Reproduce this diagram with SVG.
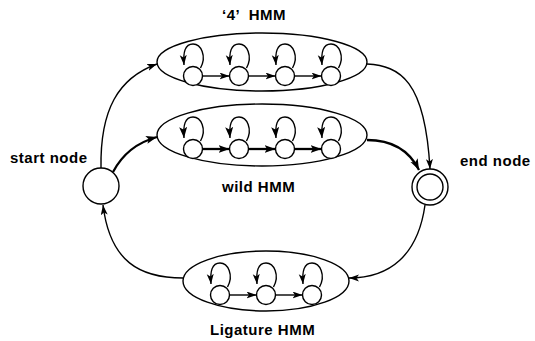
<svg xmlns="http://www.w3.org/2000/svg" width="535" height="341" viewBox="0 0 535 341">
<style>
.ln{fill:none;stroke:#000;stroke-width:1.4}
.bd{fill:none;stroke:#000;stroke-width:2.3}
.st{fill:#fff;stroke:#000;stroke-width:1.4}
.lbl{font-family:"Liberation Sans",Arial,sans-serif;font-weight:bold;font-size:15px;letter-spacing:0.5px;fill:#000}
</style>
<defs>
<marker id="a" markerUnits="userSpaceOnUse" markerWidth="12" markerHeight="8" refX="10" refY="3.5" orient="auto">
<path d="M0,0 L10,3.5 L0,7 L2.5,3.5 z" fill="#000"/>
</marker>
<marker id="ab" markerUnits="userSpaceOnUse" markerWidth="13" markerHeight="9" refX="11" refY="4" orient="auto">
<path d="M0,0 L11,4 L0,8 L2.5,4 z" fill="#000"/>
</marker>
<g id="loop"><path class="ln" d="M7.5,-8 C14,-20 8,-32 0,-32 C-8,-32 -10,-24 -9,-11" marker-end="url(#a)"/></g>
<g id="loopb"><path class="ln" d="M7.5,-8 C14,-20 8,-32 0,-32 C-8,-32 -10,-24 -9,-11" marker-end="url(#ab)" stroke-width="1.8"/></g>
</defs>
<rect width="535" height="341" fill="#fff"/>

<g id="connectors">
<path class="ln" d="M101,168 C100,110 118,78 157,64" marker-end="url(#a)"/>
<path class="bd" d="M113,172 C122,155 135,143 157,137" marker-end="url(#ab)"/>
<path class="ln" d="M183,278 C140,278 110,262 103,205" marker-end="url(#a)"/>
<path class="ln" d="M367,64 C400,66 425,80 430,169" marker-end="url(#a)"/>
<path class="bd" d="M367,140 C395,140 410,152 419,170" marker-end="url(#ab)"/>
<path class="ln" d="M425,205 C418,255 390,278 349,278" marker-end="url(#a)"/>
</g>

<g id="start-node">
<circle class="st" cx="101" cy="186" r="18"/>
<text class="lbl" x="10" y="163">start node</text>
</g>

<g id="end-node">
<circle class="st" cx="430" cy="187" r="18"/>
<circle class="st" cx="430" cy="187" r="13"/>
<text class="lbl" x="460" y="166">end node</text>
</g>

<g id="hmm-4">
<ellipse class="ln" cx="262" cy="62" rx="105" ry="29"/>
<use href="#loop" x="193" y="76"/>
<use href="#loop" x="239" y="76"/>
<use href="#loop" x="285" y="76"/>
<use href="#loop" x="331" y="76"/>
<path class="ln" d="M202.5,76 H229.5" marker-end="url(#a)"/>
<path class="ln" d="M248.5,76 H275.5" marker-end="url(#a)"/>
<path class="ln" d="M294.5,76 H321.5" marker-end="url(#a)"/>
<circle class="st" cx="193" cy="76" r="9.5"/>
<circle class="st" cx="239" cy="76" r="9.5"/>
<circle class="st" cx="285" cy="76" r="9.5"/>
<circle class="st" cx="331" cy="76" r="9.5"/>
<text class="lbl" x="222" y="20" xml:space="preserve">‘4’  HMM</text>
</g>

<g id="hmm-wild">
<ellipse class="ln" cx="262" cy="135" rx="105" ry="31"/>
<use href="#loopb" x="193" y="149"/>
<use href="#loopb" x="239" y="149"/>
<use href="#loopb" x="285" y="149"/>
<use href="#loopb" x="331" y="149"/>
<path class="bd" d="M202.5,149 H229.5" marker-end="url(#ab)"/>
<path class="bd" d="M248.5,149 H275.5" marker-end="url(#ab)"/>
<path class="bd" d="M294.5,149 H321.5" marker-end="url(#ab)"/>
<circle class="st" cx="193" cy="149" r="9.5"/>
<circle class="st" cx="239" cy="149" r="9.5"/>
<circle class="st" cx="285" cy="149" r="9.5"/>
<circle class="st" cx="331" cy="149" r="9.5"/>
<text class="lbl" x="222" y="192">wild HMM</text>
</g>

<g id="hmm-ligature">
<ellipse class="ln" cx="266" cy="281" rx="83" ry="30"/>
<use href="#loop" x="220" y="295"/>
<use href="#loop" x="266" y="295"/>
<use href="#loop" x="312" y="295"/>
<path class="ln" d="M229.5,295 H256.5" marker-end="url(#a)"/>
<path class="ln" d="M275.5,295 H302.5" marker-end="url(#a)"/>
<circle class="st" cx="220" cy="295" r="9.5"/>
<circle class="st" cx="266" cy="295" r="9.5"/>
<circle class="st" cx="312" cy="295" r="9.5"/>
<text class="lbl" x="210" y="335">Ligature HMM</text>
</g>
</svg>
